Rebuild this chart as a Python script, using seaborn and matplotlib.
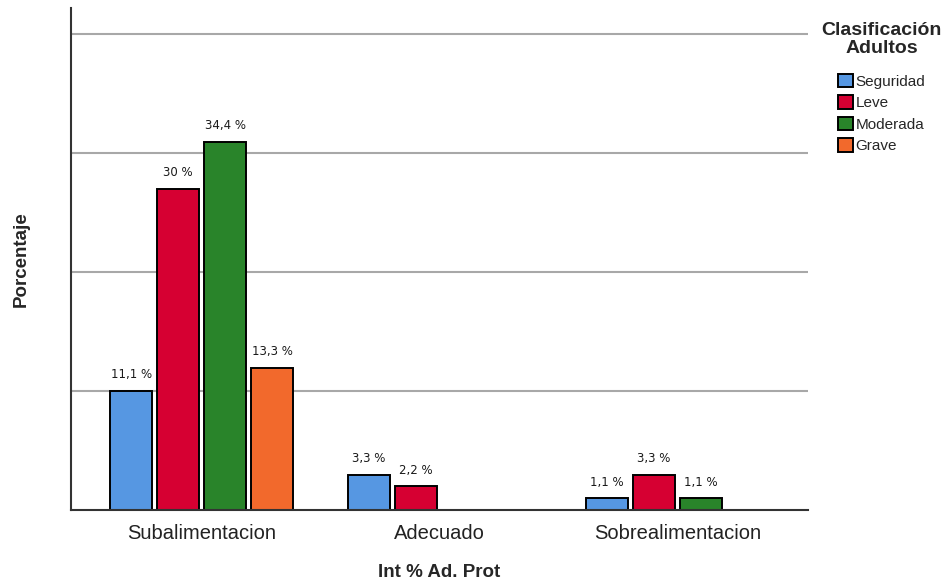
#!/usr/bin/env python3
"""
Grouped bar chart: Int % Ad. Prot by Clasificación Adultos
"""
import pandas as pd
import matplotlib
matplotlib.use('Agg')
import matplotlib.pyplot as plt
import seaborn as sns

# Data (percent of total)
categories = ['Subalimentacion', 'Adecuado', 'Sobrealimentacion']
groups = ['Seguridad', 'Leve', 'Moderada', 'Grave']
seguridad = [11.1, 3.3, 1.1]
leve = [30.0, 2.2, 3.3]
moderada = [34.4, None, 1.1]
grave = [13.3, None, None]
grid_levels = [100 / 9, 200 / 9, 300 / 9, 400 / 9]

colors = ['#5697E2', '#D60032', '#29842A', '#F2692C']

rows = []
for g, vals in zip(groups, [seguridad, leve, moderada, grave]):
    for c, v in zip(categories, vals):
        if v is not None:
            rows.append({'cat': c, 'grupo': g, 'pct': v})
df = pd.DataFrame(rows)

sns.set_style('white')
plt.rcParams['font.family'] = ['Liberation Sans', 'DejaVu Sans']

fig = plt.figure(figsize=(9.48, 5.83), dpi=100)
ax = fig.add_axes([0.0749, 0.1252, 0.7774, 0.8611])

for y in grid_levels:
    ax.axhline(y, color='#A8A8A8', lw=1.5, zorder=0)

sns.barplot(data=df, x='cat', y='pct', hue='grupo', order=categories,
            hue_order=groups, palette=colors, saturation=1, width=0.79,
            gap=0.1, edgecolor='black', linewidth=1.4, ax=ax, zorder=2)

for cont in ax.containers:
    ax.bar_label(cont, fmt=lambda v: f'{v:g}'.replace('.', ',') + ' %',
                 padding=7, fontsize=8.5, family='DejaVu Sans',
                 color='#1a1a1a')

ax.set_xlim(-0.55, 2.55)
ax.set_ylim(0, 46.9)
ax.set_yticks([])
ax.tick_params(axis='x', length=0, pad=10, labelsize=14.5, labelcolor='#222222')
for s in ['top', 'right']:
    ax.spines[s].set_visible(False)
for s in ['left', 'bottom']:
    ax.spines[s].set_color('#333333')
    ax.spines[s].set_linewidth(1.5)

ax.set_xlabel('Int % Ad. Prot', fontsize=13.5, fontweight='bold', labelpad=15)
ax.set_ylabel('Porcentaje', fontsize=13.5, fontweight='bold', labelpad=30)

leg = ax.legend(title='Clasificación\nAdultos', loc='upper left',
                bbox_to_anchor=(1.01, 0.985), frameon=False, fontsize=11,
                handlelength=1.0, handleheight=1.0, handletextpad=0.15,
                labelspacing=0.42, borderaxespad=0)
leg.get_title().set_fontweight('bold')
leg.get_title().set_fontsize(14)
leg.get_title().set_multialignment('center')
leg.get_title().set_linespacing(1.1)
leg._legend_box.align = 'center'
leg._legend_box.sep = 12

fig.savefig('out.png', dpi=100)
